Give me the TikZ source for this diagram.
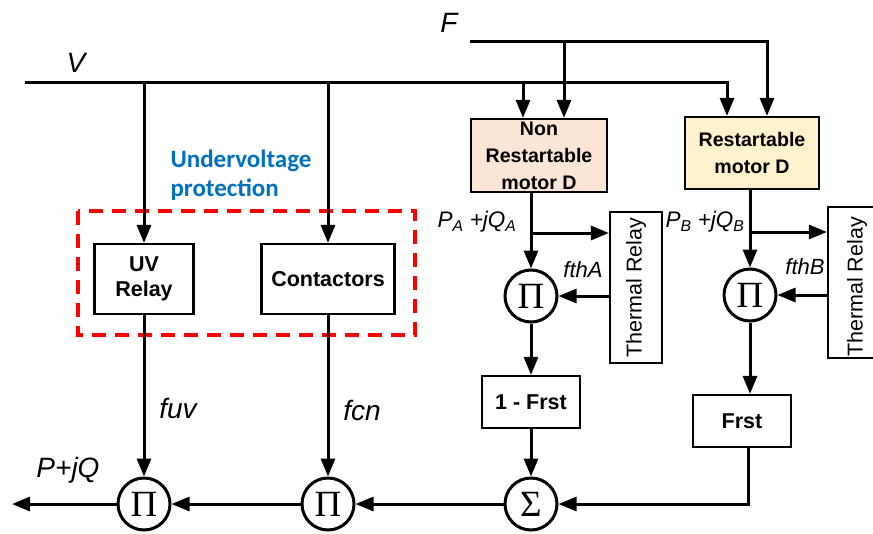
\documentclass[tikz,border=0pt]{standalone}
\usepackage{fontspec}
\setmainfont{Liberation Sans}
\newfontfamily\calfont{Carlito}
\newfontfamily\opfont{Liberation Serif}
\usetikzlibrary{arrows.meta,positioning,calc}
\definecolor{peach}{HTML}{FBE5D6}
\definecolor{cream}{HTML}{FFF2CC}
\definecolor{protblue}{HTML}{0070C0}

\begin{document}
\begin{tikzpicture}[x=1pt,y=-1pt,line width=3pt,>={Triangle[length=18pt,width=14pt]},
  blk/.style={draw,line width=2.2pt,inner sep=0pt,align=center,font=\fontsize{21.5}{25}\selectfont\bfseries},
  prod/.style={draw,circle,line width=3pt,minimum size=52pt,inner sep=0pt,font={\opfont\fontsize{37}{37}\selectfont}},
  lbl/.style={font=\fontsize{28}{30}\selectfont\itshape},
  slbl/.style={font=\fontsize{22.5}{26}\selectfont\itshape}]
\useasboundingbox (0,0) rectangle (873,533);
\clip (0,0) rectangle (873,533);
% protection frame
\draw[red,line width=3.8pt,dash pattern=on 14pt off 9pt] (78,211) rectangle (415,335);
\node[font={\calfont\bfseries\fontsize{25}{29}\selectfont},text=protblue,align=left] (lblprot) at (241,175) {Undervoltage\\protection};
% blocks
\node[blk,minimum width=99pt,minimum height=70pt] (uv) at (144,279) {UV\\Relay};
\node[blk,minimum width=133pt,minimum height=70pt] (cont) at (328,279) {Contactors};
\node[blk,fill=peach,minimum width=136pt,minimum height=73pt] (nonres) at (539,155.5) {};
\node[font=\fontsize{19.6}{27}\selectfont\bfseries,align=center] (nonrestxt) at (nonres) {Non\\Restartable\\motor D};
\node[blk,fill=cream,minimum width=134pt,minimum height=72pt,font=\fontsize{19.6}{27}\selectfont\bfseries] (res) at (752,153) {Restartable\\motor D};
\node[prod] (piA) at (531,296) {Π};
\node[draw,line width=2.2pt,minimum width=52pt,minimum height=151pt] (thA) at (636,287.5) {};
\node[rotate=90,font=\fontsize{21.5}{24}\selectfont] (thAtxt) at (thA) {Thermal Relay};
\node[blk,minimum width=98pt,minimum height=52pt] (onefrst) at (531,402) {1 - Frst};
\node[prod] (sigma) at (531,504) {Σ};
\node[prod] (piB) at (750,295) {Π};
\node[draw,line width=2.2pt,minimum width=58pt,minimum height=151pt] (thB) at (857,282.5) {};
\node[rotate=90,font=\fontsize{21.5}{24}\selectfont] (thBtxt) at (857,287) {Thermal Relay};
\node[blk,minimum width=98pt,minimum height=52pt] (frst) at (742,421) {Frst};
\node[prod] (pi2) at (328,504) {Π};
\node[prod] (pi1) at (144,504) {Π};
% labels
\node[lbl] (lblV) at (76,63) {V};
\node[lbl] (lblF) at (449,23) {F};
\node[lbl] (lblPQ) at (68,470) {P+jQ};
\node[lbl] (lblfuv) at (178,408) {fuv};
\node[lbl] (lblfcn) at (362,410) {fcn};
\node[slbl] (lblPA) at (477,222) {P\textsubscript{A} +jQ\textsubscript{A}};
\node[slbl] (lblPB) at (705,222) {P\textsubscript{B} +jQ\textsubscript{B}};
\node[font=\fontsize{22}{24}\selectfont\itshape] (lblfthA) at (583,270) {fthA};
\node[font=\fontsize{22}{24}\selectfont\itshape] (lblfthB) at (805,267) {fthB};
% signal lines
\coordinate (vL) at (25,82); \coordinate (vR) at (727,82); \coordinate (vA) at (523,82);
\coordinate (fL) at (470,41); \coordinate (fR) at (767,41); \coordinate (fA) at (564,41);
\coordinate (brA) at (531,233); \coordinate (brB) at (750,232); \coordinate (out) at (12,504);
\draw[->] (vL) -- (vR) -- (vR |- res.north);
\draw[->] (vL -| uv) -- (uv);
\draw[->] (vL -| cont) -- (cont);
\draw[->] (vA) -- (vA |- nonres.north);
\draw[->] (fL) -- (fR) -- (fR |- res.north);
\draw[->] (fA) -- (fA |- nonres.north);
\draw[->] (nonres.south -| piA) -- (piA);
\draw[->] (brA) -- (brA -| thA.west);
\draw[->] (thA.west |- piA) -- (piA);
\draw[->] (piA) -- (onefrst);
\draw[->] (onefrst) -- (sigma);
\draw[->] (res.south -| piB) -- (piB);
\draw[->] (brB) -- (brB -| thB.west);
\draw[->] (thB.west |- piB) -- (piB);
\draw[->] (piB) -- (piB |- frst.north);
\draw[->] ([xshift=6pt]frst.south) |- (sigma);
\draw[->] (uv) -- (pi1);
\draw[->] (cont) -- (pi2);
\draw[->] (sigma) -- (pi2);
\draw[->] (pi2) -- (pi1);
\draw[->] (pi1) -- (out);
\end{tikzpicture}
\end{document}
